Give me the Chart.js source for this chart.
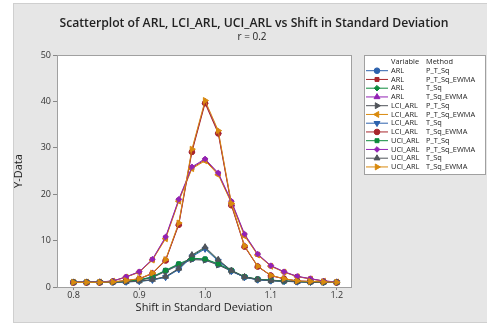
<!DOCTYPE html>
<html>
<head>
<meta charset="utf-8">
<script src="https://cdn.jsdelivr.net/npm/chart.js@4.4.1/dist/chart.umd.min.js"></script>
<style>
  html, body { margin: 0; padding: 0; background: #fff; }
</style>
</head>
<body>
<canvas id="grafico" width="487" height="324"></canvas>
<script>
const shifts = [0.80, 0.82, 0.84, 0.86, 0.88, 0.90, 0.92, 0.94, 0.96, 0.98, 1.00,
                1.02, 1.04, 1.06, 1.08, 1.10, 1.12, 1.14, 1.16, 1.18, 1.20];
const xTicks = [0.8, 0.9, 1.0, 1.1, 1.2];
const yTicks = [0, 10, 20, 30, 40, 50];

// P_T_Sq
const arlPTSq = [1.01, 1.01, 1.03, 1.07, 1.17, 1.50, 2.12, 3.48, 4.85, 6.05, 5.92, 4.87, 3.50, 2.15, 1.65, 1.44, 1.27, 1.17, 1.09, 1.03, 1.00];
const lciPTSq = [0.99, 0.99, 1.01, 1.05, 1.14, 1.45, 2.04, 3.36, 4.70, 5.90, 5.78, 4.74, 3.40, 2.08, 1.60, 1.40, 1.24, 1.15, 1.07, 1.01, 0.98];
const uciPTSq = [1.03, 1.03, 1.05, 1.09, 1.20, 1.55, 2.20, 3.60, 5.00, 6.20, 6.05, 5.00, 3.60, 2.22, 1.70, 1.48, 1.30, 1.19, 1.11, 1.05, 1.02];

// P_T_Sq_EWMA
const arlPTSqE = [1.04, 1.05, 1.07, 1.28, 2.16, 3.24, 5.90, 10.6, 18.7, 25.7, 27.4, 24.4, 18.3, 11.2, 7.00, 4.53, 3.25, 2.26, 1.77, 1.28, 1.09];
const lciPTSqE = [1.03, 1.04, 1.06, 1.26, 2.12, 3.18, 5.80, 10.4, 18.5, 25.5, 27.2, 24.2, 18.1, 11.0, 6.90, 4.46, 3.20, 2.22, 1.74, 1.26, 1.08];
const uciPTSqE = [1.05, 1.06, 1.08, 1.30, 2.20, 3.30, 6.00, 10.8, 18.9, 25.9, 27.6, 24.6, 18.5, 11.4, 7.10, 4.60, 3.30, 2.30, 1.80, 1.30, 1.10];

// T_Sq
const arlTSq = [1.01, 1.01, 1.02, 1.05, 1.11, 1.24, 1.55, 2.17, 3.88, 6.72, 8.40, 5.75, 3.47, 2.15, 1.58, 1.37, 1.24, 1.13, 1.06, 1.02, 1.00];
const lciTSq = [1.00, 1.00, 1.01, 1.04, 1.09, 1.21, 1.50, 2.09, 3.76, 6.54, 8.20, 5.60, 3.39, 2.10, 1.54, 1.34, 1.22, 1.11, 1.05, 1.01, 0.99];
const uciTSq = [1.02, 1.02, 1.03, 1.06, 1.13, 1.27, 1.60, 2.25, 4.00, 6.90, 8.60, 5.90, 3.55, 2.20, 1.62, 1.40, 1.26, 1.15, 1.07, 1.03, 1.01];

// T_Sq_EWMA
const arlTSqE = [0.99, 0.99, 1.00, 1.09, 1.38, 1.77, 2.95, 5.80, 13.6, 29.4, 39.9, 33.4, 17.8, 8.80, 4.45, 2.47, 1.78, 1.29, 1.19, 1.09, 1.00];
const lciTSqE = [0.98, 0.98, 0.99, 1.08, 1.36, 1.74, 2.90, 5.70, 13.4, 29.1, 39.6, 33.1, 17.6, 8.70, 4.40, 2.44, 1.76, 1.28, 1.18, 1.08, 0.99];
const uciTSqE = [1.00, 1.00, 1.01, 1.10, 1.40, 1.80, 3.00, 5.90, 13.8, 29.7, 40.2, 33.7, 18.0, 8.90, 4.50, 2.50, 1.80, 1.30, 1.20, 1.10, 1.01];

const variables = ['ARL', 'ARL', 'ARL', 'ARL', 'LCI_ARL', 'LCI_ARL', 'LCI_ARL', 'LCI_ARL', 'UCI_ARL', 'UCI_ARL', 'UCI_ARL', 'UCI_ARL'];
const methods = ['P_T_Sq', 'P_T_Sq_EWMA', 'T_Sq', 'T_Sq_EWMA', 'P_T_Sq', 'P_T_Sq_EWMA', 'T_Sq', 'T_Sq_EWMA', 'P_T_Sq', 'P_T_Sq_EWMA', 'T_Sq', 'T_Sq_EWMA'];
const values = [arlPTSq, arlPTSqE, arlTSq, arlTSqE, lciPTSq, lciPTSqE, lciTSq, lciTSqE, uciPTSq, uciPTSqE, uciTSq, uciTSqE];

// colour / symbol cycle
const blue = '#2d62ad', red = '#a8262c', green = '#0d8a3c', purple = '#9322b5', gray = '#50545a', orange = '#d98a0e';
const marks = [
  { color: blue,   style: 'circle',   rot: 0 },
  { color: red,    style: 'rect',     rot: 0 },
  { color: green,  style: 'rectRot',  rot: 0 },
  { color: purple, style: 'triangle', rot: 0 },
  { color: gray,   style: 'triangle', rot: 90 },
  { color: orange, style: 'triangle', rot: -90 },
  { color: blue,   style: 'triangle', rot: 180 },
  { color: red,    style: 'circle',   rot: 0 },
  { color: green,  style: 'rect',     rot: 0 },
  { color: purple, style: 'rectRot',  rot: 0 },
  { color: gray,   style: 'triangle', rot: 0 },
  { color: orange, style: 'triangle', rot: 90 }
];

const FONT = '"Open Sans", "DejaVu Sans", sans-serif';

const datasets = values.map((vals, i) => ({
  label: variables[i] + ' ' + methods[i],
  data: vals.map((v, j) => ({ x: shifts[j], y: v })),
  borderColor: marks[i].color,
  backgroundColor: marks[i].color,
  borderWidth: 1,
  pointStyle: marks[i].style,
  pointRotation: marks[i].rot,
  pointRadius: marks[i].style === 'triangle' ? 3.4 : 2.8,
  pointBorderWidth: 1,
  order: values.length - i
}));

const panel = {
  id: 'panel',
  beforeDraw(chart) {
    const { ctx, chartArea: a } = chart;
    ctx.save();
    ctx.fillStyle = '#fff';
    ctx.fillRect(0, 0, chart.width, chart.height);
    ctx.fillStyle = '#e6e6e6';
    ctx.fillRect(13, 3, 474, 319);
    ctx.strokeStyle = '#cfcfcf';
    ctx.lineWidth = 1;
    ctx.strokeRect(13.5, 3.5, 474, 319);
    ctx.fillStyle = '#fff';
    ctx.fillRect(a.left, a.top, a.right - a.left, a.bottom - a.top);
    ctx.restore();
  },
  afterDraw(chart) {
    const { ctx, chartArea: a } = chart;
    ctx.save();
    ctx.strokeStyle = '#a0a0a0';
    ctx.lineWidth = 1;
    ctx.strokeRect(Math.round(a.left) + 0.5, Math.round(a.top) + 0.5,
                   Math.round(a.right - a.left), Math.round(a.bottom - a.top));

    // titles
    ctx.fillStyle = '#222';
    ctx.textAlign = 'center';
    ctx.textBaseline = 'middle';
    ctx.font = '600 12.2px ' + FONT;
    ctx.fillText('Scatterplot of ARL, LCI_ARL, UCI_ARL vs Shift in Standard Deviation', 254, 24);
    ctx.font = '10px ' + FONT;
    ctx.fillText('r = 0.2', 252, 37.5);

    // legend box
    const lx = 364, ly = 55, lw = 121, lh = 119;
    ctx.fillStyle = '#fff';
    ctx.fillRect(lx, ly, lw, lh);
    ctx.strokeStyle = '#a0a0a0';
    ctx.strokeRect(lx + 0.5, ly + 0.5, lw, lh);
    ctx.textAlign = 'left';
    ctx.font = '7.4px ' + FONT;
    ctx.fillStyle = '#222';
    ctx.fillText('Variable', 391, 61.5);
    ctx.fillText('Method', 426, 61.5);
    chart.data.datasets.forEach((ds, i) => {
      const y = 70.7 + i * 8.75;
      ctx.strokeStyle = ds.borderColor;
      ctx.fillStyle = ds.borderColor;
      ctx.lineWidth = 1;
      ctx.beginPath();
      ctx.moveTo(366, y);
      ctx.lineTo(388, y);
      ctx.stroke();
      Chart.helpers.drawPoint(ctx, {
        pointStyle: ds.pointStyle, rotation: ds.pointRotation,
        radius: ds.pointRadius, borderWidth: 1
      }, 377, y);
      ctx.fillStyle = '#222';
      ctx.fillText(variables[i], 391, y);
      ctx.fillText(methods[i], 426, y);
    });
    ctx.restore();
  }
};

const config = {
  type: 'line',
  data: { datasets },
  options: {
    responsive: false,
    animation: false,
    devicePixelRatio: 1,
    layout: { padding: { left: 0, right: 136, top: 55, bottom: 0 } },
    plugins: {
      legend: { display: false },
      title: { display: false },
      tooltip: { enabled: false }
    },
    scales: {
      x: {
        type: 'linear',
        min: 0.775,
        max: 1.2217,
        afterBuildTicks: s => { s.ticks = xTicks.map(v => ({ value: v })); },
        afterFit: s => { s.height = 37; },
        ticks: {
          callback: v => v.toFixed(1),
          font: { family: FONT, size: 9 },
          color: '#333',
          padding: 0,
          maxRotation: 0
        },
        grid: { drawOnChartArea: false, tickLength: 3, color: '#888' },
        border: { display: false },
        title: {
          display: true,
          text: 'Shift in Standard Deviation',
          font: { family: FONT, size: 11 },
          color: '#222',
          padding: { top: 0, bottom: 9.4 }
        }
      },
      y: {
        min: 0,
        max: 50,
        afterBuildTicks: s => { s.ticks = yTicks.map(v => ({ value: v })); },
        afterFit: s => { s.width = 57; },
        ticks: {
          font: { family: FONT, size: 9 },
          color: '#333',
          padding: 2
        },
        grid: { drawOnChartArea: false, tickLength: 4, color: '#888' },
        border: { display: false },
        title: {
          display: true,
          text: 'Y-Data',
          font: { family: FONT, size: 11 },
          color: '#222',
          padding: { top: 12.4, bottom: 0 }
        }
      }
    }
  },
  plugins: [panel]
};

const ctx = document.getElementById('grafico').getContext('2d');
new Chart(ctx, config);
</script>
</body>
</html>
